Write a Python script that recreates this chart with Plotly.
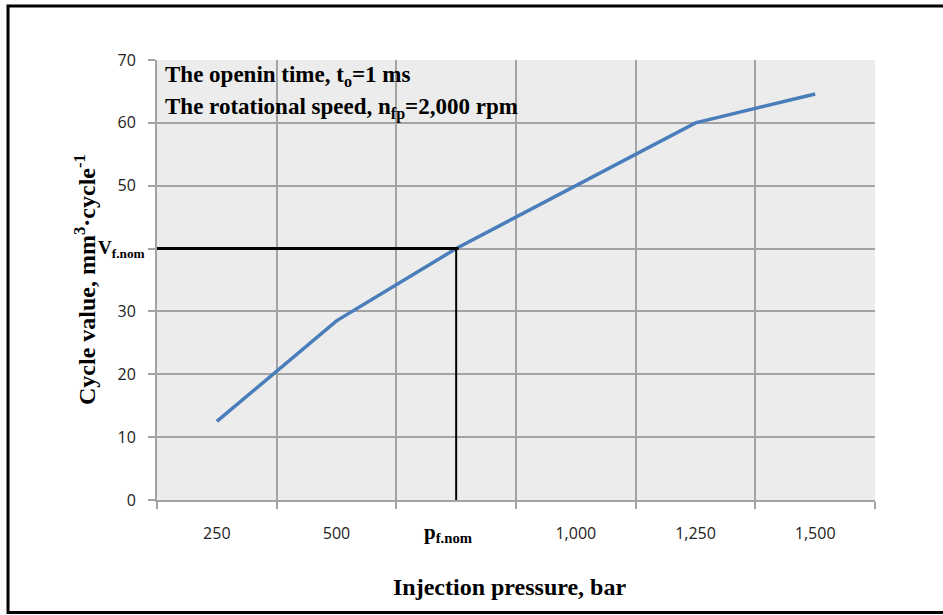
import plotly.graph_objects as go

# ---- data ----
categories = ["250", "500", "p_f.nom", "1,000", "1,250", "1,500"]
tick_labels = ["250", "500", "", "1,000", "1,250", "1,500"]
cycle_values = [12.5, 28.5, 40.0, 50.0, 60.0, 64.6]
nominal_index = 3          # category position of p_f.nom
nominal_value = 40.0       # V_f.nom
y_ticks = [0, 10, 20, 30, 40, 50, 60, 70]
y_tick_labels = ["0", "10", "20", "30", "", "50", "60", "70"]

x_pos = list(range(1, len(categories) + 1))
boundaries = [i + 0.5 for i in range(0, len(categories) + 1)]

SERIF = "Liberation Serif"
SANS = "Open Sans"
GRID = "#a3a3a3"
TXT = 24

fig = go.Figure()
fig.add_trace(go.Scatter(
    x=x_pos, y=cycle_values, mode="lines",
    line=dict(color="#4a7ebb", width=3.5), showlegend=False, hoverinfo="skip"))

# nominal guide lines
fig.add_shape(type="line", xref="x", yref="y", x0=0.5 - 4 / 120, x1=nominal_index + 0.02,
              y0=nominal_value, y1=nominal_value, line=dict(color="black", width=3))
fig.add_shape(type="line", xref="x", yref="y", x0=nominal_index, x1=nominal_index,
              y0=0, y1=nominal_value, line=dict(color="black", width=2))

# page border
fig.add_shape(type="rect", xref="paper", yref="paper",
              x0=-0.2075, x1=1.11, y0=-0.2557, y1=1.1227,
              line=dict(color="black", width=3), fillcolor="rgba(0,0,0,0)", layer="above")

# annotations
fig.add_annotation(text="<b>The openin time, t<sub>o</sub>=1 ms</b>", xref="paper", yref="paper",
                   x=0.009, y=(500 - 76) / 440, xanchor="left", yanchor="middle", showarrow=False,
                   font=dict(family=SERIF, size=TXT - 1, color="black"))
fig.add_annotation(text="<b>The rotational speed, n<sub>fp</sub>=2,000 rpm</b>", xref="paper", yref="paper",
                   x=0.009, y=(500 - 108) / 440, xanchor="left", yanchor="middle", showarrow=False,
                   font=dict(family=SERIF, size=TXT - 1, color="black"))
fig.add_annotation(text="<b>V<sub>f.nom</sub></b>", xref="paper", yref="y",
                   x=-0.014, y=nominal_value, xanchor="right", yanchor="middle", showarrow=False,
                   font=dict(family=SERIF, size=19, color="black"))
fig.add_annotation(text="<b>p<sub>f.nom</sub></b>", xref="x", yref="paper",
                   x=nominal_index, xshift=-8, y=(500 - 533) / 440, xanchor="center", yanchor="middle",
                   showarrow=False, font=dict(family=SERIF, size=21, color="black"))
fig.add_annotation(text="<b>Cycle value, mm<sup>3</sup>·cycle<sup>-1</sup></b>", xref="paper", yref="paper",
                   x=(85 - 157) / 718, y=0.5, textangle=-90, xanchor="center", yanchor="middle",
                   showarrow=False, font=dict(family=SERIF, size=TXT, color="black"))
fig.add_annotation(text="<b>Injection pressure, bar</b>", xref="paper", yref="paper",
                   x=(509 - 157) / 718, y=(500 - 587) / 440, xanchor="center", yanchor="middle",
                   showarrow=False, font=dict(family=SERIF, size=TXT, color="black"))

fig.update_layout(
    width=943, height=615,
    margin=dict(l=157, r=68, t=60, b=115),
    paper_bgcolor="white", plot_bgcolor="#ececec",
    xaxis=dict(range=[0.5, len(categories) + 0.5], tickmode="array", tickvals=x_pos, ticktext=tick_labels,
               showgrid=False, ticks="", zeroline=False, showline=False,
               ticklabelstandoff=22, tickfont=dict(family=SANS, size=16, color="#222")),
    xaxis2=dict(overlaying="x", matches="x", range=[0.5, len(categories) + 0.5], side="bottom",
                tickmode="array", tickvals=boundaries, showticklabels=False,
                showgrid=True, gridcolor=GRID, gridwidth=2, ticks="outside", ticklen=7,
                tickcolor=GRID, tickwidth=2, showline=True, linecolor=GRID, linewidth=2, zeroline=False),
    yaxis=dict(range=[0, 70], tickmode="array", tickvals=y_ticks, ticktext=y_tick_labels,
               showgrid=True, gridcolor=GRID, gridwidth=2, ticks="outside", ticklen=7,
               tickcolor=GRID, tickwidth=2, showline=True, linecolor=GRID, linewidth=2, zeroline=False,
               ticklabelstandoff=9, tickfont=dict(family=SANS, size=16, color="#222")),
)
# invisible trace to activate xaxis2
fig.add_trace(go.Scatter(x=[1], y=[0], xaxis="x2", mode="markers", marker=dict(opacity=0),
                         showlegend=False, hoverinfo="skip"))

fig.write_html("out.html")
